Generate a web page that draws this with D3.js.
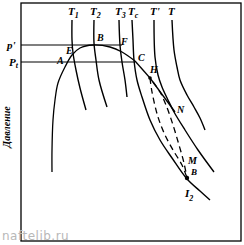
<!DOCTYPE html>
<html>
<head>
<meta charset="utf-8">
<script src="https://d3js.org/d3.v7.min.js"></script>
<style>
body { margin: 0; background: #fff; }
text { font-family: "Liberation Serif", "DejaVu Serif", serif; font-style: italic; font-weight: bold; }
</style>
</head>
<body>
<div id="main"></div>
<script>
// chart units: temperature along x (0..220), pressure along y (0..238)
var envelope = [[31,69],[31,91],[32,121],[34,141],[37,158],[44,174],[51,186],[59,193],[72,196],[89,194],[101,189],[114,180]];
var lineCH = [[114,180],[129,163]];
var lineHN = [[129,163],[154,129]];
var dashed1 = [[129,163],[131,149],[137,124],[144,106],[152,91],[161,76],[166,63]];
var dashed2 = [[132,159],[139,149],[145,136],[152,116],[158,96],[163,78],[166,63]];

var isoNames = [["T","1"],["T","2"],["T","3"],["T","c"],["T'",""],["T",""]];
var isotherms = [
  [[51,221],[51,201],[52,188],[55,171],[59,153],[65,131]],
  [[73,221],[73,198],[75,181],[78,161],[86,134]],
  [[98,221],[99,196],[101,179],[104,161],[106,144]],
  [[111,221],[112,201],[113,181],[116,161],[121,144],[129,121],[139,101],[151,83],[166,62],[179,50],[189,41]],
  [[133,221],[134,184],[137,166],[141,154],[147,141],[153,129],[164,111],[177,91],[193,69]],
  [[151,221],[153,191],[156,174],[159,161],[166,146],[173,134],[179,123],[184,111]]
];

var pPrime = 196, pT = 179;
var pPrimeEnd = 101, pTEnd = 114;

var pointNames = ["A","E","B","F","C","H","N","M","B"];
var pointT = [45,51,74,101,114,129,154,164,166];
var pointP = [179,186,196,194,180,163,129,77,63];

var width = 244, height = 245;
var x = d3.scaleLinear().domain([0,220]).range([21,241]);
var y = d3.scaleLinear().domain([0,238]).range([241,3]);

var svg = d3.select("#main").append("svg")
    .attr("width", width)
    .attr("height", height);

var line = d3.line()
    .x(function(d) { return x(d[0]); })
    .y(function(d) { return y(d[1]); })
    .curve(d3.curveCatmullRom);

// frame
svg.append("rect")
    .attr("x", x(0)).attr("y", y(238))
    .attr("width", x(220) - x(0)).attr("height", y(0) - y(238))
    .attr("fill", "none").attr("stroke", "#000").attr("stroke-width", 1.3);

// pressure lines
svg.append("line")
    .attr("x1", x(0)).attr("x2", x(pPrimeEnd))
    .attr("y1", y(pPrime)).attr("y2", y(pPrime))
    .attr("stroke", "#000").attr("stroke-width", 1.1);
svg.append("line")
    .attr("x1", x(0)).attr("x2", x(pTEnd))
    .attr("y1", y(pT)).attr("y2", y(pT))
    .attr("stroke", "#000").attr("stroke-width", 1.1);

// isotherms
svg.selectAll(".iso")
    .data(isotherms)
  .enter().append("path")
    .attr("class", "iso")
    .attr("d", line)
    .attr("fill", "none").attr("stroke", "#000").attr("stroke-width", 1.4);

// envelope and other curves
[envelope, lineCH, lineHN].forEach(function(d) {
  svg.append("path").attr("d", line(d))
      .attr("fill", "none").attr("stroke", "#000").attr("stroke-width", 1.3);
});
[dashed1, dashed2].forEach(function(d) {
  svg.append("path").attr("d", line(d))
      .attr("fill", "none").attr("stroke", "#000").attr("stroke-width", 1.3)
      .attr("stroke-dasharray", "6,4");
});

// dots
svg.append("circle").attr("cx", x(pointT[5])).attr("cy", y(pointP[5])).attr("r", 1.8);
svg.append("circle").attr("cx", x(pointT[8])).attr("cy", y(pointP[8])).attr("r", 2.2);

// isotherm labels
var isoLabel = svg.selectAll(".isolab")
    .data(isotherms)
  .enter().append("text")
    .attr("class", "isolab")
    .attr("x", function(d) { return x(d[0][0]) - 4; })
    .attr("y", 15)
    .style("font-size", "11px");
isoLabel.append("tspan").text(function(d, i) { return isoNames[i][0]; });
isoLabel.append("tspan").attr("dy", 3).style("font-size", "8px")
    .text(function(d, i) { return isoNames[i][1]; });

// point labels
var off = [[-9,2],[-6,-1],[2,-4],[-1,-2],[3,0],[0,-5],[2,1],[3,0],[4,-3]];
svg.selectAll(".plab")
    .data(pointNames)
  .enter().append("text")
    .attr("class", "plab")
    .attr("x", function(d, i) { return x(pointT[i]) + off[i][0]; })
    .attr("y", function(d, i) { return y(pointP[i]) + off[i][1]; })
    .style("font-size", function(d, i) { return i == 8 ? "9px" : "10px"; })
    .text(function(d) { return d; });

// I2 label under point
var lb = svg.append("text").attr("x", x(pointT[8]) - 2).attr("y", y(pointP[8]) + 19).style("font-size", "11px");
lb.append("tspan").text("I");
lb.append("tspan").attr("dy", 4).style("font-size", "8px").text("2");

// pressure labels
var pl = svg.append("text").attr("x", 7).attr("y", y(pPrime) + 4).style("font-size", "11px");
pl.append("tspan").text("p'");
var pl2 = svg.append("text").attr("x", 9).attr("y", y(pT) + 4).style("font-size", "11px");
pl2.append("tspan").text("P");
pl2.append("tspan").attr("dy", 2).style("font-size", "8px").text("t");

// axis title
svg.append("text")
    .attr("transform", "translate(10,127) rotate(-90)")
    .style("text-anchor", "middle")
    .style("font-size", "10px")
    .text("Давление");

// watermark
svg.append("text")
    .attr("x", 2).attr("y", 240)
    .style("font-family", "'DejaVu Sans', sans-serif")
    .style("font-style", "normal").style("font-weight", "normal")
    .style("font-size", "12px")
    .style("letter-spacing", "0.5px")
    .attr("fill", "#b8b8b8")
    .text("naftelib.ru");
</script>
</body>
</html>
